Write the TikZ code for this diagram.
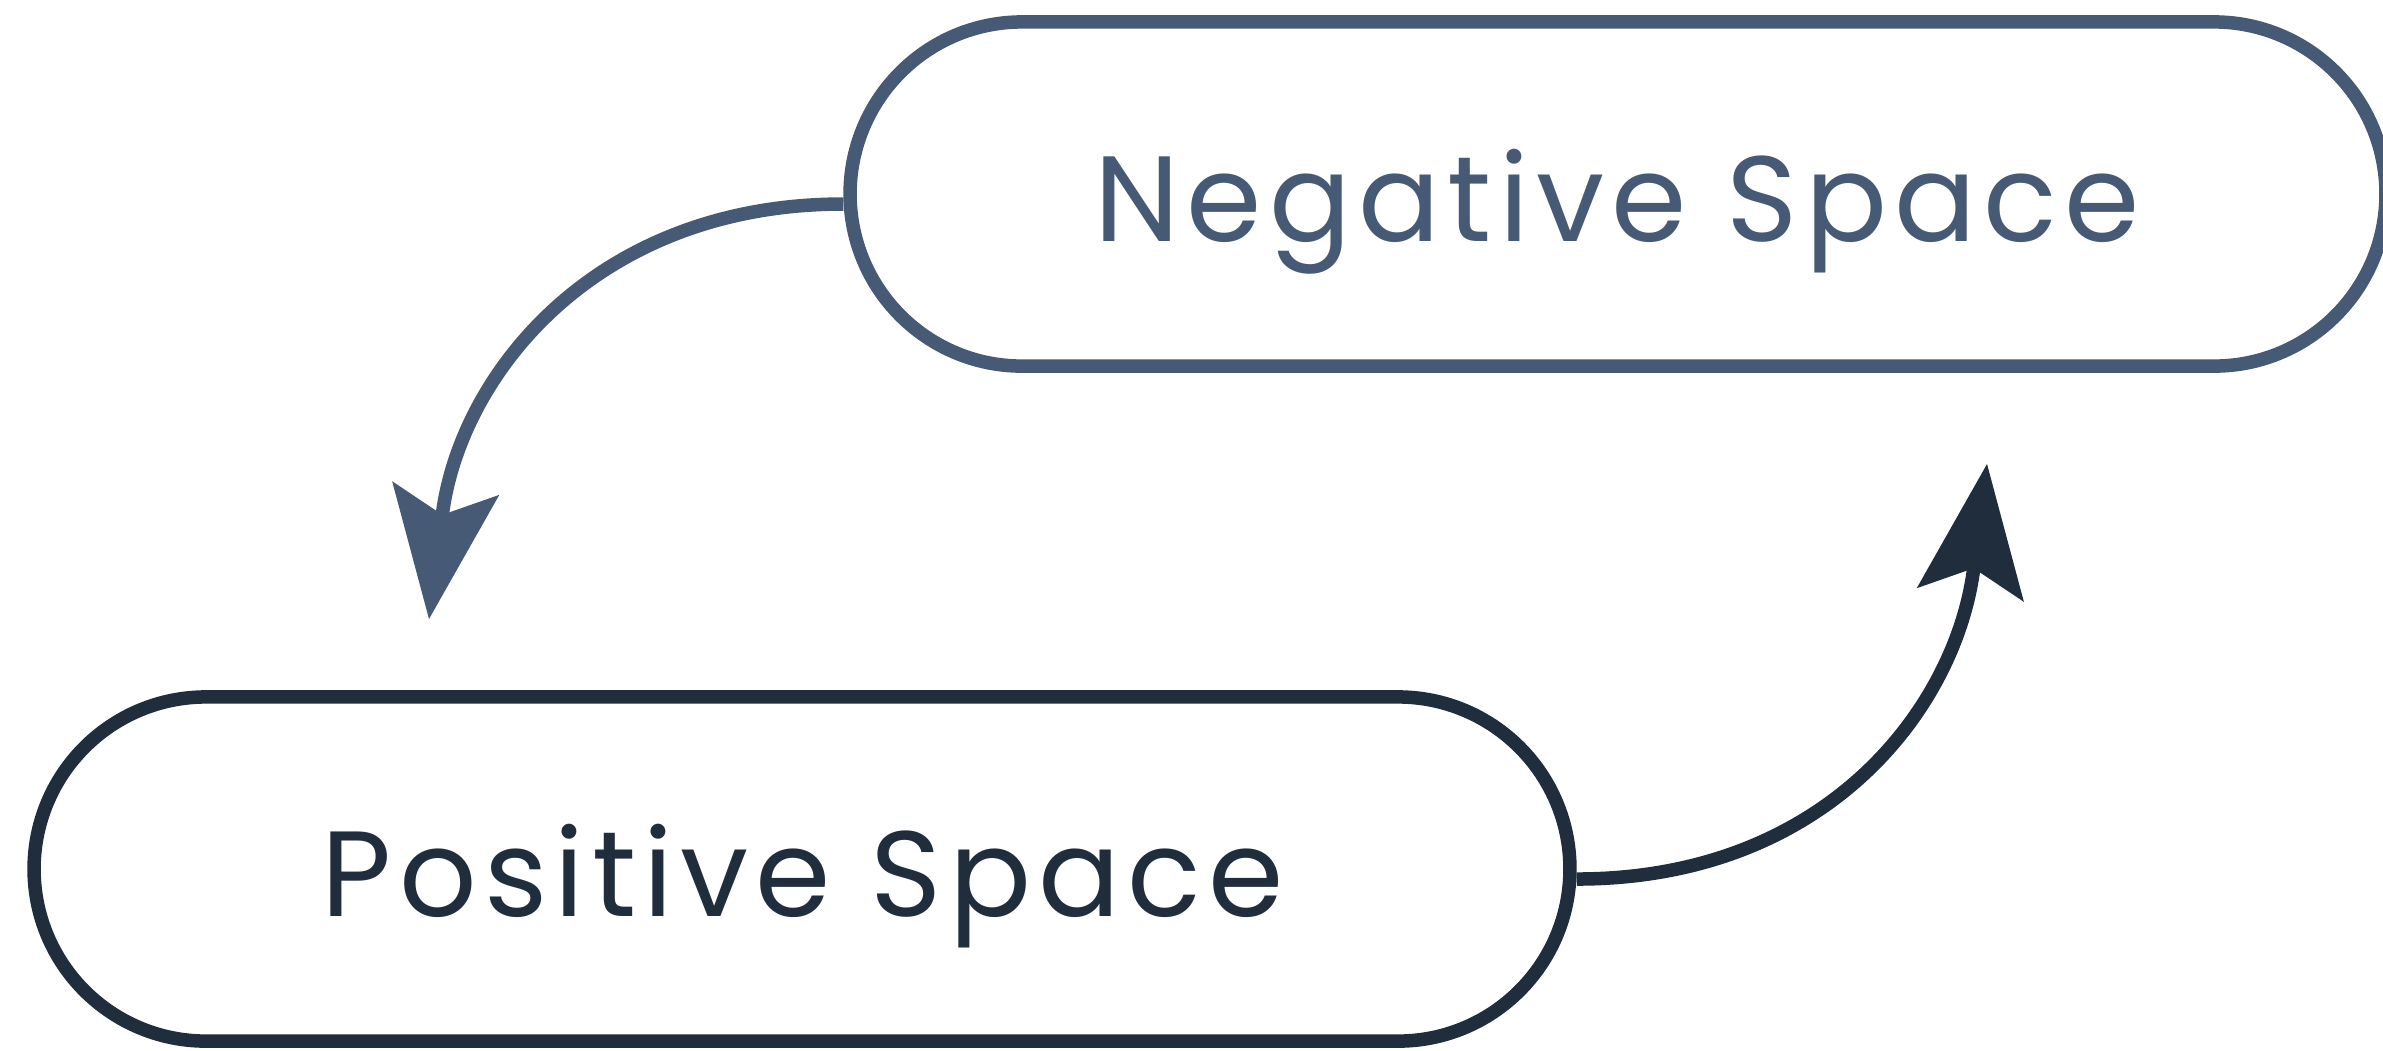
\documentclass[tikz,border=0pt]{standalone}
\usepackage{fontspec}
\setmainfont{Poppins}
\newfontfamily\lblfont[LetterSpace=6]{Poppins}
\usetikzlibrary{arrows.meta}
\definecolor{negc}{HTML}{465A75}
\definecolor{posc}{HTML}{1F2D3D}
\begin{document}
\begin{tikzpicture}[x=0.01cm,y=-0.01cm,
  pill/.style={rectangle, rounded corners=1.72cm, line width=0.135cm,
    minimum width=15.35cm, minimum height=3.44cm, inner sep=0pt, fill=white},
  lbl/.style={font=\lblfont\fontsize{34.5}{40}\selectfont, inner sep=0pt, anchor=base},
  conn/.style={line width=0.135cm,
    -{Stealth[length=1.32cm,width=1.08cm,inset=0.27cm,line width=0pt]}}
]
\useasboundingbox (0,0) rectangle (2383,1050);
\node[pill, draw=negc] (neg) at (1618,194) {};
\node[pill, draw=posc] (pos) at (802,869) {};
\node[lbl, text=negc] (negtxt) at (1617,241) {Negative Space};
\node[lbl, text=posc] (postxt) at (803,916) {Positive Space};
\coordinate (negtip) at (429,619);
\coordinate (postip) at (1987,464);
\draw[conn, negc] ([yshift=-0.10cm]neg.west) .. controls (594,204) and (460,376) .. (negtip);
\draw[conn, posc] ([yshift=-0.10cm]pos.east) .. controls (1827,879) and (1956,707) .. (postip);
\end{tikzpicture}
\end{document}
